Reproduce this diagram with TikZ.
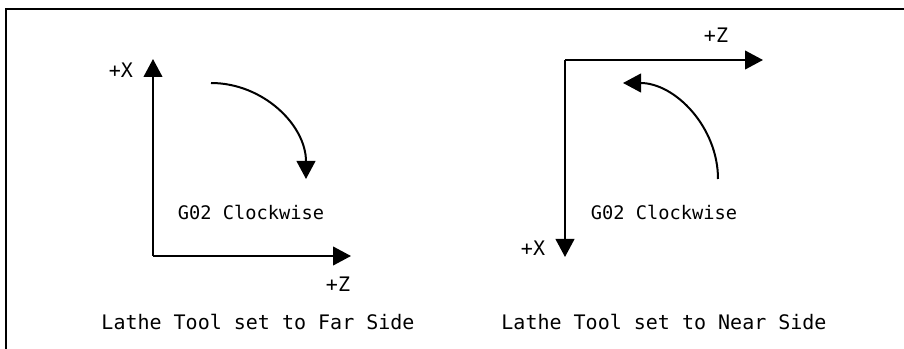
\documentclass[tikz,border=0pt]{standalone}
\usepackage{fontspec}
\setmainfont{DejaVu Sans Mono}
\usetikzlibrary{arrows.meta}
\tikzset{
  axisline/.style={line width=1.5pt,-{Triangle[length=13.5pt,width=14pt]}},
  frameline/.style={line width=1.7pt},
  lbl/.style={inner sep=0pt,font=\fontsize{15pt}{17pt}\selectfont},
  glbl/.style={inner sep=0pt,font=\fontsize{14pt}{17pt}\selectfont}
}
\begin{document}
\begin{tikzpicture}[x=0.75pt,y=-0.75pt]
\useasboundingbox (0,0) rectangle (904,349);
\coordinate (fb) at (6,352);
\coordinate (fc) at (6,9);
\coordinate (fr) at (907,9);
\draw[frameline] (fb) -- (fc) -- (fr);
% left
\coordinate (lo) at (153,256);
\coordinate (lx) at (153,59);
\coordinate (lz) at (351,256);
\coordinate (la) at (211,83);
\coordinate (lb) at (306,179);
\draw[axisline] (lo) -- (lx);
\draw[axisline] (lo) -- (lz);
\draw[axisline] (la) .. controls (263,83) and (306,125) .. (lb);
\node[lbl] (lxt) at (121,70) {+X};
\node[lbl] (lzt) at (338,284) {+Z};
\node[glbl] (lg) at (251,212) {G02 Clockwise};
\node[lbl] (lc) at (258,322) {Lathe Tool set to Far Side};
% right
\coordinate (ro) at (565,60);
\coordinate (rz) at (763,60);
\coordinate (rx) at (565,257);
\coordinate (ra) at (718,179);
\coordinate (rb) at (623,83);
\draw[axisline] (ro) -- (rz);
\draw[axisline] (ro) -- (rx);
\draw[axisline] (ra) .. controls (718,127) and (675,83) .. (rb);
\node[lbl] (rzt) at (716,35) {+Z};
\node[lbl] (rxt) at (533,248) {+X};
\node[glbl] (rg) at (664,212) {G02 Clockwise};
\node[lbl] (rc) at (664,322) {Lathe Tool set to Near Side};
\end{tikzpicture}
\end{document}
